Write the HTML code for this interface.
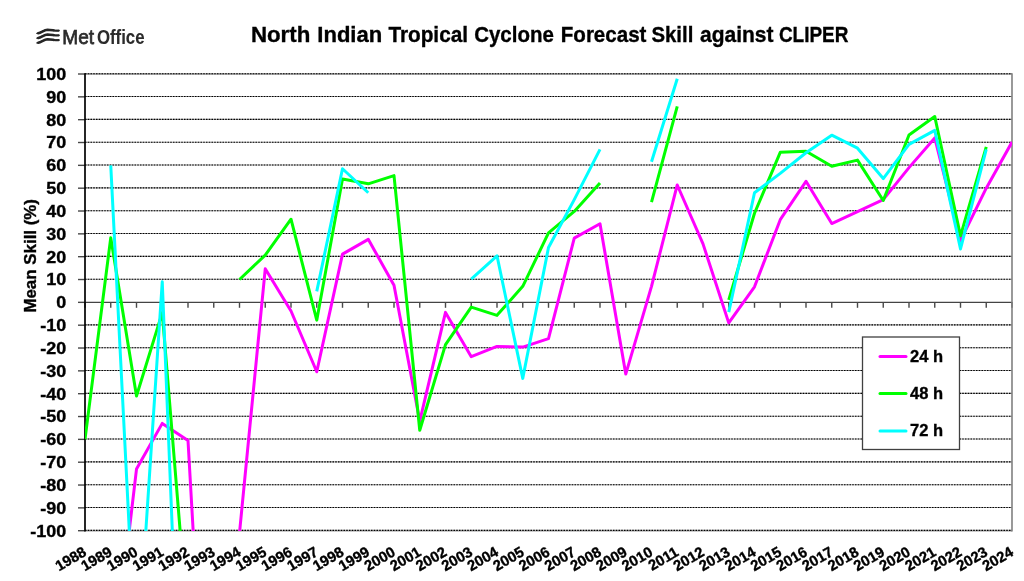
<!DOCTYPE html>
<html><head><meta charset="utf-8"><style>
html,body{margin:0;padding:0;background:#fff;width:1024px;height:581px;overflow:hidden}
svg{display:block;will-change:transform}
text{font-family:"Liberation Sans",sans-serif;font-weight:bold;fill:#000;stroke:#000;stroke-width:0.35}
.g0{stroke:#a0a0a0;stroke-width:1.1}
.g{stroke:#000;stroke-width:1.1;stroke-dasharray:1.5 1.25}
.t{stroke:#484848;stroke-width:1.4}
.z{stroke:#444;stroke-width:1.4}
.ax{stroke:#000;stroke-width:1.7}
.rb{stroke:#808080;stroke-width:1.6}
.s{fill:none;stroke-width:3;stroke-linejoin:round;stroke-linecap:butt}
.yl{font-size:16.8px;text-anchor:end}
.xl{font-size:14.8px;text-anchor:end}
.lg{font-size:16.5px}
.ttl{font-size:22.6px}
</style></head><body>
<svg width="1024" height="581" viewBox="0 0 1024 581">
<defs><clipPath id="cp"><rect x="85" y="73" width="927" height="458"/></clipPath></defs>
<rect width="1024" height="581" fill="#fff"/>
<text x="250.9" y="42.3" class="ttl" textLength="59.4" lengthAdjust="spacingAndGlyphs">North</text><text x="317.3" y="42.3" class="ttl" textLength="64.9" lengthAdjust="spacingAndGlyphs">Indian</text><text x="388.4" y="42.3" class="ttl" textLength="79.6" lengthAdjust="spacingAndGlyphs">Tropical</text><text x="474.2" y="42.3" class="ttl" textLength="79.7" lengthAdjust="spacingAndGlyphs">Cyclone</text><text x="560.8" y="42.3" class="ttl" textLength="85.6" lengthAdjust="spacingAndGlyphs">Forecast</text><text x="651.4" y="42.3" class="ttl" textLength="41.9" lengthAdjust="spacingAndGlyphs">Skill</text><text x="700.0" y="42.3" class="ttl" textLength="73.5" lengthAdjust="spacingAndGlyphs">against</text><text x="778.9" y="42.3" class="ttl" textLength="69.6" lengthAdjust="spacingAndGlyphs">CLIPER</text>
<text x="62.3" y="44" style="font-size:20.8px;font-weight:normal;fill:#2b2b2b;stroke:#2b2b2b;stroke-width:0.75" textLength="31.8" lengthAdjust="spacingAndGlyphs">Met</text><text x="96.9" y="44" style="font-size:20.5px;font-weight:bold;fill:#2b2b2b;stroke:#2b2b2b;stroke-width:0.1" textLength="47.6" lengthAdjust="spacingAndGlyphs">Office</text>
<g fill="none" stroke="#262626" stroke-linecap="round">
<path stroke-width="1.2" d="M36.8 33.40 C40 33.40 43 29.90 47 29.80 C51 29.70 54 30.90 59 30.60"/>
<path stroke-width="2.5" d="M38.2 33.20 C41.5 32.60 44 29.90 47.5 29.80 C50 29.80 52 30.20 54 30.50"/>
<path stroke-width="2.2" d="M55.5 30.75 L58.6 30.60"/>
<path stroke-width="1.2" d="M36.8 38.15 C40 38.15 43 34.65 47 34.55 C51 34.45 54 35.65 59 35.35"/>
<path stroke-width="2.5" d="M38.2 37.95 C41.5 37.35 44 34.65 47.5 34.55 C50 34.55 52 34.95 54 35.25"/>
<path stroke-width="2.2" d="M55.5 35.50 L58.6 35.35"/>
<path stroke-width="1.2" d="M36.8 42.90 C40 42.90 43 39.40 47 39.30 C51 39.20 54 40.40 59 40.10"/>
<path stroke-width="2.5" d="M38.2 42.70 C41.5 42.10 44 39.40 47.5 39.30 C50 39.30 52 39.70 54 40.00"/>
<path stroke-width="2.2" d="M55.5 40.25 L58.6 40.10"/>
</g>
<text transform="translate(35.7 312.6) rotate(-90)" style="font-size:16.7px" textLength="113.6" lengthAdjust="spacingAndGlyphs">Mean Skill (%)</text>
<path d="M85 74 H1012 M85 530.7 H1012" stroke="#9a9a9a" stroke-width="1.6" fill="none"/>
<line x1="85" y1="530.40" x2="1012" y2="530.40" class="g0"/><line x1="85" y1="530.40" x2="1012" y2="530.40" class="g"/>
<line x1="85" y1="507.56" x2="1012" y2="507.56" class="g0"/><line x1="85" y1="507.56" x2="1012" y2="507.56" class="g"/>
<line x1="85" y1="484.73" x2="1012" y2="484.73" class="g0"/><line x1="85" y1="484.73" x2="1012" y2="484.73" class="g"/>
<line x1="85" y1="461.90" x2="1012" y2="461.90" class="g0"/><line x1="85" y1="461.90" x2="1012" y2="461.90" class="g"/>
<line x1="85" y1="439.06" x2="1012" y2="439.06" class="g0"/><line x1="85" y1="439.06" x2="1012" y2="439.06" class="g"/>
<line x1="85" y1="416.23" x2="1012" y2="416.23" class="g0"/><line x1="85" y1="416.23" x2="1012" y2="416.23" class="g"/>
<line x1="85" y1="393.39" x2="1012" y2="393.39" class="g0"/><line x1="85" y1="393.39" x2="1012" y2="393.39" class="g"/>
<line x1="85" y1="370.56" x2="1012" y2="370.56" class="g0"/><line x1="85" y1="370.56" x2="1012" y2="370.56" class="g"/>
<line x1="85" y1="347.72" x2="1012" y2="347.72" class="g0"/><line x1="85" y1="347.72" x2="1012" y2="347.72" class="g"/>
<line x1="85" y1="324.88" x2="1012" y2="324.88" class="g0"/><line x1="85" y1="324.88" x2="1012" y2="324.88" class="g"/>
<line x1="85" y1="279.22" x2="1012" y2="279.22" class="g0"/><line x1="85" y1="279.22" x2="1012" y2="279.22" class="g"/>
<line x1="85" y1="256.38" x2="1012" y2="256.38" class="g0"/><line x1="85" y1="256.38" x2="1012" y2="256.38" class="g"/>
<line x1="85" y1="233.55" x2="1012" y2="233.55" class="g0"/><line x1="85" y1="233.55" x2="1012" y2="233.55" class="g"/>
<line x1="85" y1="210.71" x2="1012" y2="210.71" class="g0"/><line x1="85" y1="210.71" x2="1012" y2="210.71" class="g"/>
<line x1="85" y1="187.88" x2="1012" y2="187.88" class="g0"/><line x1="85" y1="187.88" x2="1012" y2="187.88" class="g"/>
<line x1="85" y1="165.04" x2="1012" y2="165.04" class="g0"/><line x1="85" y1="165.04" x2="1012" y2="165.04" class="g"/>
<line x1="85" y1="142.21" x2="1012" y2="142.21" class="g0"/><line x1="85" y1="142.21" x2="1012" y2="142.21" class="g"/>
<line x1="85" y1="119.37" x2="1012" y2="119.37" class="g0"/><line x1="85" y1="119.37" x2="1012" y2="119.37" class="g"/>
<line x1="85" y1="96.54" x2="1012" y2="96.54" class="g0"/><line x1="85" y1="96.54" x2="1012" y2="96.54" class="g"/>
<line x1="85" y1="73.70" x2="1012" y2="73.70" class="g0"/><line x1="85" y1="73.70" x2="1012" y2="73.70" class="g"/>
<line x1="78" y1="530.70" x2="85" y2="530.70" class="t"/>
<line x1="78" y1="507.87" x2="85" y2="507.87" class="t"/>
<line x1="78" y1="485.03" x2="85" y2="485.03" class="t"/>
<line x1="78" y1="462.20" x2="85" y2="462.20" class="t"/>
<line x1="78" y1="439.36" x2="85" y2="439.36" class="t"/>
<line x1="78" y1="416.53" x2="85" y2="416.53" class="t"/>
<line x1="78" y1="393.69" x2="85" y2="393.69" class="t"/>
<line x1="78" y1="370.86" x2="85" y2="370.86" class="t"/>
<line x1="78" y1="348.02" x2="85" y2="348.02" class="t"/>
<line x1="78" y1="325.19" x2="85" y2="325.19" class="t"/>
<line x1="78" y1="302.35" x2="85" y2="302.35" class="t"/>
<line x1="78" y1="279.52" x2="85" y2="279.52" class="t"/>
<line x1="78" y1="256.68" x2="85" y2="256.68" class="t"/>
<line x1="78" y1="233.85" x2="85" y2="233.85" class="t"/>
<line x1="78" y1="211.01" x2="85" y2="211.01" class="t"/>
<line x1="78" y1="188.18" x2="85" y2="188.18" class="t"/>
<line x1="78" y1="165.34" x2="85" y2="165.34" class="t"/>
<line x1="78" y1="142.51" x2="85" y2="142.51" class="t"/>
<line x1="78" y1="119.67" x2="85" y2="119.67" class="t"/>
<line x1="78" y1="96.84" x2="85" y2="96.84" class="t"/>
<line x1="78" y1="74.00" x2="85" y2="74.00" class="t"/>
<line x1="85" y1="302.35" x2="1012" y2="302.35" class="z"/>
<line x1="85.00" y1="302" x2="85.00" y2="307.8" class="t"/>
<line x1="110.75" y1="302" x2="110.75" y2="307.8" class="t"/>
<line x1="136.50" y1="302" x2="136.50" y2="307.8" class="t"/>
<line x1="162.25" y1="302" x2="162.25" y2="307.8" class="t"/>
<line x1="188.00" y1="302" x2="188.00" y2="307.8" class="t"/>
<line x1="213.75" y1="302" x2="213.75" y2="307.8" class="t"/>
<line x1="239.50" y1="302" x2="239.50" y2="307.8" class="t"/>
<line x1="265.25" y1="302" x2="265.25" y2="307.8" class="t"/>
<line x1="291.00" y1="302" x2="291.00" y2="307.8" class="t"/>
<line x1="316.75" y1="302" x2="316.75" y2="307.8" class="t"/>
<line x1="342.50" y1="302" x2="342.50" y2="307.8" class="t"/>
<line x1="368.25" y1="302" x2="368.25" y2="307.8" class="t"/>
<line x1="394.00" y1="302" x2="394.00" y2="307.8" class="t"/>
<line x1="419.75" y1="302" x2="419.75" y2="307.8" class="t"/>
<line x1="445.50" y1="302" x2="445.50" y2="307.8" class="t"/>
<line x1="471.25" y1="302" x2="471.25" y2="307.8" class="t"/>
<line x1="497.00" y1="302" x2="497.00" y2="307.8" class="t"/>
<line x1="522.75" y1="302" x2="522.75" y2="307.8" class="t"/>
<line x1="548.50" y1="302" x2="548.50" y2="307.8" class="t"/>
<line x1="574.25" y1="302" x2="574.25" y2="307.8" class="t"/>
<line x1="600.00" y1="302" x2="600.00" y2="307.8" class="t"/>
<line x1="625.75" y1="302" x2="625.75" y2="307.8" class="t"/>
<line x1="651.50" y1="302" x2="651.50" y2="307.8" class="t"/>
<line x1="677.25" y1="302" x2="677.25" y2="307.8" class="t"/>
<line x1="703.00" y1="302" x2="703.00" y2="307.8" class="t"/>
<line x1="728.75" y1="302" x2="728.75" y2="307.8" class="t"/>
<line x1="754.50" y1="302" x2="754.50" y2="307.8" class="t"/>
<line x1="780.25" y1="302" x2="780.25" y2="307.8" class="t"/>
<line x1="806.00" y1="302" x2="806.00" y2="307.8" class="t"/>
<line x1="831.75" y1="302" x2="831.75" y2="307.8" class="t"/>
<line x1="857.50" y1="302" x2="857.50" y2="307.8" class="t"/>
<line x1="883.25" y1="302" x2="883.25" y2="307.8" class="t"/>
<line x1="909.00" y1="302" x2="909.00" y2="307.8" class="t"/>
<line x1="934.75" y1="302" x2="934.75" y2="307.8" class="t"/>
<line x1="960.50" y1="302" x2="960.50" y2="307.8" class="t"/>
<line x1="986.25" y1="302" x2="986.25" y2="307.8" class="t"/>
<line x1="1012.00" y1="302" x2="1012.00" y2="307.8" class="t"/>
<line x1="85" y1="73.3" x2="85" y2="531.4" class="ax"/>
<line x1="1012" y1="73.3" x2="1012" y2="531.4" class="rb"/>
<g clip-path="url(#cp)">
<path d="M110.75 688.26 L136.50 469.05 L162.25 423.38 L188.00 440.50 L213.75 891.49 L239.50 532.98 L265.25 268.78 L291.00 311.03 L316.75 371.77 L342.50 254.17 L368.25 239.33 L394.00 285.22 L419.75 421.09 L445.50 312.40 L471.25 356.70 L497.00 346.42 L522.75 347.11 L548.50 338.66 L574.25 238.18 L600.00 223.80 L625.75 374.05 L651.50 286.37 L677.25 184.98 L703.00 243.89 L728.75 322.90 L754.50 286.82 L780.25 219.69 L806.00 181.32 L831.75 223.57 L857.50 211.70 L883.25 199.59 L909.00 167.62 L934.75 137.94 L960.50 240.70 L986.25 188.18 L1012.00 142.05" class="s" stroke="#FF00FF"/>
<path d="M85.00 439.36 L110.75 237.73 L136.50 395.97 L162.25 312.63 L188.00 626.61 M239.50 279.52 L265.25 255.08 L291.00 219.23 L316.75 320.16 L342.50 179.04 L368.25 183.84 L394.00 175.62 L419.75 430.23 L445.50 344.59 L471.25 307.15 L497.00 315.37 L522.75 286.37 L548.50 232.93 L574.25 211.47 L600.00 182.92 M651.50 202.10 L677.25 106.43 M728.75 299.84 L754.50 213.29 L780.25 152.32 L806.00 151.18 L831.75 166.25 L857.50 160.09 L883.25 200.51 L909.00 134.97 L934.75 116.47 L960.50 235.90 L986.25 146.84" class="s" stroke="#00FF00"/>
<path d="M110.75 165.34 L136.50 672.28 L162.25 281.80 L188.00 918.90 M316.75 291.39 L342.50 168.77 L368.25 192.74 M471.25 279.06 L497.00 255.77 L522.75 378.39 L548.50 247.55 L574.25 199.59 L600.00 149.36 M651.50 161.69 L677.25 78.80 M728.75 312.17 L754.50 192.74 L780.25 173.33 L806.00 152.78 L831.75 135.20 L857.50 148.21 L883.25 178.58 L909.00 144.33 L934.75 130.40 L960.50 248.92 L986.25 149.36" class="s" stroke="#00FFFF"/>
</g>
<text transform="translate(66.3 536.60) scale(1.07 1)" class="yl">-100</text>
<text transform="translate(66.3 513.76) scale(1.07 1)" class="yl">-90</text>
<text transform="translate(66.3 490.93) scale(1.07 1)" class="yl">-80</text>
<text transform="translate(66.3 468.10) scale(1.07 1)" class="yl">-70</text>
<text transform="translate(66.3 445.26) scale(1.07 1)" class="yl">-60</text>
<text transform="translate(66.3 422.43) scale(1.07 1)" class="yl">-50</text>
<text transform="translate(66.3 399.59) scale(1.07 1)" class="yl">-40</text>
<text transform="translate(66.3 376.75) scale(1.07 1)" class="yl">-30</text>
<text transform="translate(66.3 353.92) scale(1.07 1)" class="yl">-20</text>
<text transform="translate(66.3 331.08) scale(1.07 1)" class="yl">-10</text>
<text transform="translate(66.3 308.25) scale(1.07 1)" class="yl">0</text>
<text transform="translate(66.3 285.42) scale(1.07 1)" class="yl">10</text>
<text transform="translate(66.3 262.58) scale(1.07 1)" class="yl">20</text>
<text transform="translate(66.3 239.75) scale(1.07 1)" class="yl">30</text>
<text transform="translate(66.3 216.91) scale(1.07 1)" class="yl">40</text>
<text transform="translate(66.3 194.08) scale(1.07 1)" class="yl">50</text>
<text transform="translate(66.3 171.24) scale(1.07 1)" class="yl">60</text>
<text transform="translate(66.3 148.41) scale(1.07 1)" class="yl">70</text>
<text transform="translate(66.3 125.57) scale(1.07 1)" class="yl">80</text>
<text transform="translate(66.3 102.74) scale(1.07 1)" class="yl">90</text>
<text transform="translate(66.3 79.90) scale(1.07 1)" class="yl">100</text>
<text transform="translate(87.50 555) rotate(-30)" class="xl">1988</text>
<text transform="translate(113.25 555) rotate(-30)" class="xl">1989</text>
<text transform="translate(139.00 555) rotate(-30)" class="xl">1990</text>
<text transform="translate(164.75 555) rotate(-30)" class="xl">1991</text>
<text transform="translate(190.50 555) rotate(-30)" class="xl">1992</text>
<text transform="translate(216.25 555) rotate(-30)" class="xl">1993</text>
<text transform="translate(242.00 555) rotate(-30)" class="xl">1994</text>
<text transform="translate(267.75 555) rotate(-30)" class="xl">1995</text>
<text transform="translate(293.50 555) rotate(-30)" class="xl">1996</text>
<text transform="translate(319.25 555) rotate(-30)" class="xl">1997</text>
<text transform="translate(345.00 555) rotate(-30)" class="xl">1998</text>
<text transform="translate(370.75 555) rotate(-30)" class="xl">1999</text>
<text transform="translate(396.50 555) rotate(-30)" class="xl">2000</text>
<text transform="translate(422.25 555) rotate(-30)" class="xl">2001</text>
<text transform="translate(448.00 555) rotate(-30)" class="xl">2002</text>
<text transform="translate(473.75 555) rotate(-30)" class="xl">2003</text>
<text transform="translate(499.50 555) rotate(-30)" class="xl">2004</text>
<text transform="translate(525.25 555) rotate(-30)" class="xl">2005</text>
<text transform="translate(551.00 555) rotate(-30)" class="xl">2006</text>
<text transform="translate(576.75 555) rotate(-30)" class="xl">2007</text>
<text transform="translate(602.50 555) rotate(-30)" class="xl">2008</text>
<text transform="translate(628.25 555) rotate(-30)" class="xl">2009</text>
<text transform="translate(654.00 555) rotate(-30)" class="xl">2010</text>
<text transform="translate(679.75 555) rotate(-30)" class="xl">2011</text>
<text transform="translate(705.50 555) rotate(-30)" class="xl">2012</text>
<text transform="translate(731.25 555) rotate(-30)" class="xl">2013</text>
<text transform="translate(757.00 555) rotate(-30)" class="xl">2014</text>
<text transform="translate(782.75 555) rotate(-30)" class="xl">2015</text>
<text transform="translate(808.50 555) rotate(-30)" class="xl">2016</text>
<text transform="translate(834.25 555) rotate(-30)" class="xl">2017</text>
<text transform="translate(860.00 555) rotate(-30)" class="xl">2018</text>
<text transform="translate(885.75 555) rotate(-30)" class="xl">2019</text>
<text transform="translate(911.50 555) rotate(-30)" class="xl">2020</text>
<text transform="translate(937.25 555) rotate(-30)" class="xl">2021</text>
<text transform="translate(963.00 555) rotate(-30)" class="xl">2022</text>
<text transform="translate(988.75 555) rotate(-30)" class="xl">2023</text>
<text transform="translate(1014.50 555) rotate(-30)" class="xl">2024</text>
<rect x="862.5" y="337" width="97" height="112.5" fill="#fff" stroke="#404040" stroke-width="1.3"/>
<line x1="880" y1="356.5" x2="906" y2="356.5" stroke="#FF00FF" stroke-width="3" stroke-linecap="round"/>
<text x="910" y="361.8" class="lg">24 h</text>
<line x1="880" y1="393.4" x2="906" y2="393.4" stroke="#00FF00" stroke-width="3" stroke-linecap="round"/>
<text x="910" y="399.2" class="lg">48 h</text>
<line x1="880" y1="431.0" x2="906" y2="431.0" stroke="#00FFFF" stroke-width="3" stroke-linecap="round"/>
<text x="910" y="436.1" class="lg">72 h</text>
</svg>
</body></html>
